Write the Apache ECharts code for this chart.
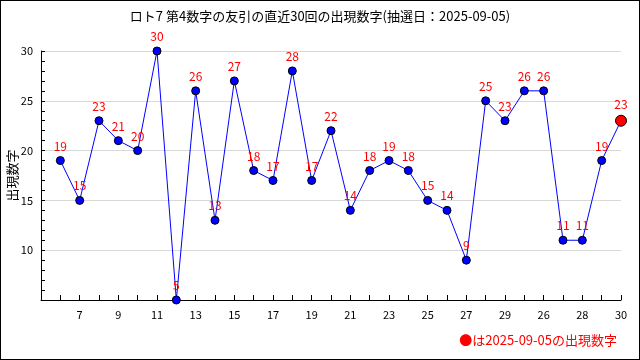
<!DOCTYPE html>
<html><head><meta charset="utf-8">
<script src="https://cdn.jsdelivr.net/npm/echarts@6/dist/echarts.min.js"></script>
<style>html,body{margin:0;padding:0;background:#fff}#c{width:640px;height:360px;box-sizing:border-box;border:1px solid #000}</style>
</head><body><div id="c"></div>
<script>
const titleText = 'ロト7 第4数字の友引の直近30回の出現数字(抽選日：2025-09-05)';
const yName = '出現数字';
const xLabels = ['6','7','8','9','10','11','12','13','14','15','16','17','18','19','20','21','22','23','24','25','26','27','28','29','25','26','27','28','29','30'];
const values = [19,15,23,21,20,30,5,26,13,27,18,17,28,17,22,14,18,19,18,15,14,9,25,23,26,26,11,11,19,23];
const yTicks = [5,10,15,20,25,30];
const noteText = '●は2025-09-05の出現数字';

const F = '"Noto Sans CJK JP", "DejaVu Sans", sans-serif';
const last = values.length - 1;
const data = values.map((v, i) => {
  const p = { value: [i, v] };
  if (i === last) { p.symbolSize = 11; p.itemStyle = { color: '#ff0000', borderColor: '#000', borderWidth: 1 }; }
  return p;
});

const chart = echarts.init(document.getElementById('c'), null, { renderer: 'canvas' });
chart.setOption({
  animation: false,
  backgroundColor: '#fff',
  title: { text: titleText, left: 'center', top: 4, textStyle: { fontFamily: F, fontSize: 13, fontWeight: 'normal', color: '#000' } },
  grid: { left: 40, right: 18, top: 50, bottom: 59, outerBoundsMode: 'none', containLabel: false },
  xAxis: {
    type: 'value', min: -1, max: last, interval: 1,
    axisLine: { show: true, onZero: false, lineStyle: { color: '#000', width: 1 } },
    axisTick: { show: true, inside: true, length: 5, lineStyle: { color: '#000' } },
    axisLabel: { fontFamily: F, fontSize: 11, color: '#000', margin: 9,
      formatter: v => (v >= 0 && v % 2 === 1) ? xLabels[v] : '' },
    splitLine: { show: false }
  },
  yAxis: {
    type: 'value', min: yTicks[0], max: yTicks[yTicks.length - 1], interval: 5,
    name: yName, nameLocation: 'middle', nameGap: 22, nameRotate: 90, nameMoveOverlap: false,
    nameTextStyle: { fontFamily: F, fontSize: 13, color: '#000' },
    axisLine: { show: true, onZero: false, lineStyle: { color: '#000', width: 1 } },
    axisTick: { show: true, inside: true, length: 4, lineStyle: { color: '#000' } },
    minorTick: { show: true, splitNumber: 5, length: 4, lineStyle: { color: '#000' } },
    axisLabel: { fontFamily: F, fontSize: 11, color: '#000', margin: 8, showMinLabel: false,
      formatter: v => v === yTicks[0] ? '' : String(v) },
    splitLine: { show: true, lineStyle: { color: '#d8d8d8', width: 1 } }
  },
  series: [{
    type: 'line', data: data,
    symbol: 'circle', symbolSize: 8,
    lineStyle: { color: '#0000ff', width: 1 },
    itemStyle: { color: '#0000ff', borderColor: '#000', borderWidth: 1 },
    label: { show: true, position: 'top', distance: 4, color: '#ff0000', fontFamily: F, fontSize: 12,
      formatter: p => String(p.value[1]) },
    z: 3
  }],
  graphic: [{
    type: 'text', right: 22, top: 333,
    style: { text: noteText, fill: '#ff0000', font: '13px ' + F }
  }]
});
</script></body></html>
